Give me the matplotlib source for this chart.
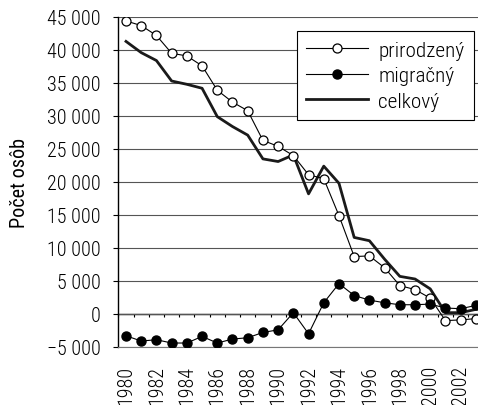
import matplotlib.pyplot as plt
import numpy as np
from matplotlib.ticker import FuncFormatter

plt.rcParams['font.family'] = ['Roboto Condensed', 'DejaVu Sans']
plt.rcParams['font.size'] = 14.5
plt.rcParams['font.weight'] = 300

years = np.arange(1980, 2004)
prirodzeny = [44400, 43700, 42200, 39500, 39100, 37600, 33900, 32100, 30800, 26300,
              25400, 24000, 21100, 20500, 14900, 8700, 8800, 7000, 4300, 3700,
              2400, -1000, -900, -700]
migracny = [-3300, -4100, -3900, -4400, -4400, -3400, -4400, -3800, -3600, -2800,
            -2400, 200, -3000, 1700, 4600, 2800, 2100, 1700, 1400, 1400,
            1500, 900, 800, 1300]
celkovy = [41300, 39600, 38400, 35300, 34800, 34200, 29900, 28400, 27100, 23500,
           23100, 24100, 18200, 22400, 19800, 11600, 11100, 8300, 5700, 5300,
           3800, 200, 200, 700]
yticks = np.arange(-5000, 45001, 5000)


def fmt(v, pos):
    s = f"{abs(int(v)):,}".replace(",", " ")
    return ("\u2212" if v < 0 else "") + s


fig = plt.figure(figsize=(4.78, 4.06), dpi=100)
ax = fig.add_axes([0.2477, 0.1429, 0.7638, 0.8128])

ax.plot(years, celkovy, color="#1a1a1a", lw=2.0, label="celkový", zorder=3)
ax.plot(years, prirodzeny, color="black", lw=0.8, marker="o", ms=6.5,
        mfc="white", mec="black", mew=0.9, label="prirodzený", zorder=4)
ax.plot(years, migracny, color="black", lw=0.8, marker="o", ms=6.5,
        mfc="black", mec="black", label="migračný", zorder=5)

ax.set_xlim(years[0] - 0.5, years[-1] + 0.5)
ax.set_ylim(-5000, 45000)
ax.set_yticks(yticks)
ax.yaxis.set_major_formatter(FuncFormatter(fmt))
ax.grid(axis="y", color="#555555", lw=0.8)
ax.set_axisbelow(True)

ax.set_xticks(years[::2])
ax.set_xticklabels([str(y) for y in years[::2]], rotation=90)
ax.tick_params(axis="x", length=0, pad=13)
ax.tick_params(axis="y", direction="out", length=3.6, width=0.8, pad=9)

for s in ["top", "right"]:
    ax.spines[s].set_visible(False)
ax.spines["bottom"].set_color("#777777")
ax.spines["left"].set_linewidth(1.0)

# os x pretina pri nule
sec = ax.secondary_xaxis(0.1)
sec.set_xticks(np.arange(years[0] - 0.5, years[-1] + 1.0, 1.0))
sec.tick_params(axis="x", direction="out", length=2.5, width=0.8, labelbottom=False)
sec.spines["bottom"].set_linewidth(1.0)

ax.set_ylabel("Počet osôb")
ax.yaxis.set_label_coords(-0.245, 0.5)

h, l = ax.get_legend_handles_labels()
order = [1, 2, 0]
leg = ax.legend([h[i] for i in order], [l[i] for i in order],
                loc="upper right", bbox_to_anchor=(0.974, 0.957),
                borderaxespad=0, fancybox=False, framealpha=1,
                edgecolor="black", fontsize=15.3, handlelength=2.9,
                handletextpad=0.5, labelspacing=0.3, borderpad=0.45)
leg.get_frame().set_linewidth(0.8)

fig.savefig("out.png", dpi=100)
